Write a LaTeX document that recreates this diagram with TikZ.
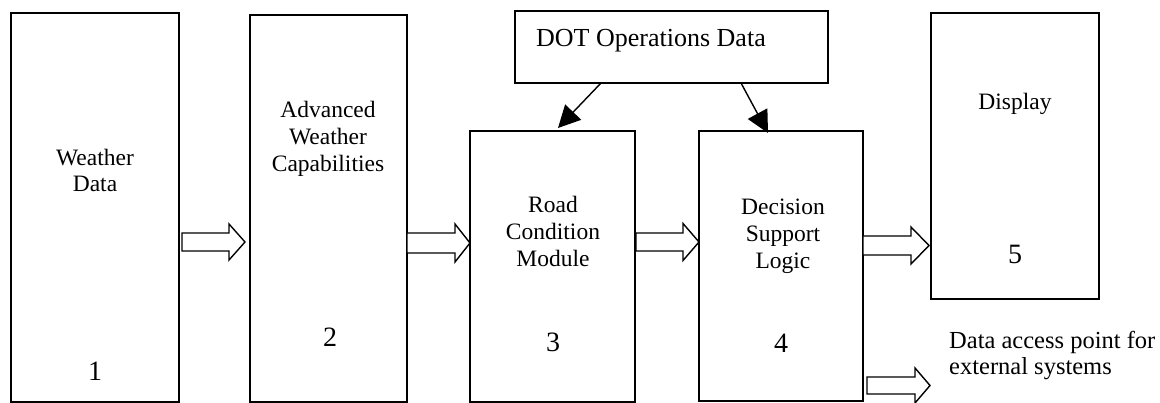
\documentclass[tikz,border=0pt]{standalone}
\usepackage{fontspec}
\setmainfont{Liberation Serif}
\usetikzlibrary{arrows.meta,calc}
% block arrow: start x, head x, tip x, centre y, half shaft, half head
\newcommand\blkarrow[6]{%
  \draw[blk] (#1,{#4-#5}) -- (#2,{#4-#5}) -- (#2,{#4-#6}) -- (#3,#4)
    -- (#2,{#4+#6}) -- (#2,{#4+#5}) -- (#1,{#4+#5}) -- cycle;}
\begin{document}
\begin{tikzpicture}[x=1pt,y=-1pt,
  box/.style={draw,line width=1.4pt,inner sep=0pt,outer sep=0pt},
  blk/.style={draw,line width=1.4pt,line join=miter,fill=white},
  lbl/.style={font=\fontsize{23.5}{27}\selectfont,inner sep=0pt,anchor=base},
  num/.style={font=\fontsize{28}{32}\selectfont,inner sep=0pt,anchor=base},
  dotlbl/.style={font=\fontsize{26}{30}\selectfont,inner sep=0pt,anchor=base west},
  extlbl/.style={font=\fontsize{24.5}{28}\selectfont,inner sep=0pt,anchor=base west},
  dotarrow/.style={line width=1.4pt,-{Triangle[length=22pt,width=22pt]}}]
\useasboundingbox (0,0) rectangle (1160,403);
% boxes
\node[box,minimum width=168pt,minimum height=389pt] (b1) at (95,207.5) {};
\node[box,minimum width=157pt,minimum height=387pt] (b2) at (328.5,208.5) {};
\node[box,minimum width=165pt,minimum height=271pt] (b3) at (552.5,266.5) {};
\node[box,minimum width=164pt,minimum height=270pt] (b4) at (781,266) {};
\node[box,minimum width=168pt,minimum height=286pt] (b5) at (1015,156) {};
\node[box,minimum width=313pt,minimum height=72pt] (dot) at (671.5,47) {};
% labels
\node[lbl] (t1a) at (95,166) {Weather};
\node[lbl] (t1b) at (95,192) {Data};
\node[num] (n1) at (95,381) {1};
\node[lbl] (t2a) at (328,118) {Advanced};
\node[lbl] (t2b) at (328,145) {Weather};
\node[lbl] (t2c) at (328,172) {Capabilities};
\node[num] (n2) at (330,347) {2};
\node[lbl] (t3a) at (553,213) {Road};
\node[lbl] (t3b) at (553,240) {Condition};
\node[lbl] (t3c) at (553,267) {Module};
\node[num] (n3) at (553,352) {3};
\node[lbl] (t4a) at (783,215) {Decision};
\node[lbl] (t4b) at (783,242) {Support};
\node[lbl] (t4c) at (783,269) {Logic};
\node[num] (n4) at (781,353) {4};
\node[lbl] (t5a) at (1015,110) {Display};
\node[num] (n5) at (1015,264) {5};
\node[dotlbl] (tdot) at (536,47) {DOT Operations Data};
\node[extlbl] (text1) at (949,349) {Data access point for};
\node[extlbl] (text2) at (949,374) {external systems};
% arrows from DOT box
\draw[dotarrow] ($(dot.south west)+(86,0)$) -- ($(b3.north west)+(88,-3)$);
\draw[dotarrow] ($(dot.south west)+(226,0)$) -- ($(b4.north west)+(69,2)$);
% block arrows
\blkarrow{182}{229}{245}{242}{9}{18}
\blkarrow{407}{455}{470}{243}{10}{19}
\blkarrow{636}{683}{699}{242}{9}{18.5}
\blkarrow{863}{911}{929}{245.5}{9.5}{18.5}
\blkarrow{867}{915}{930}{385.5}{8.5}{17.5}
\end{tikzpicture}
\end{document}
